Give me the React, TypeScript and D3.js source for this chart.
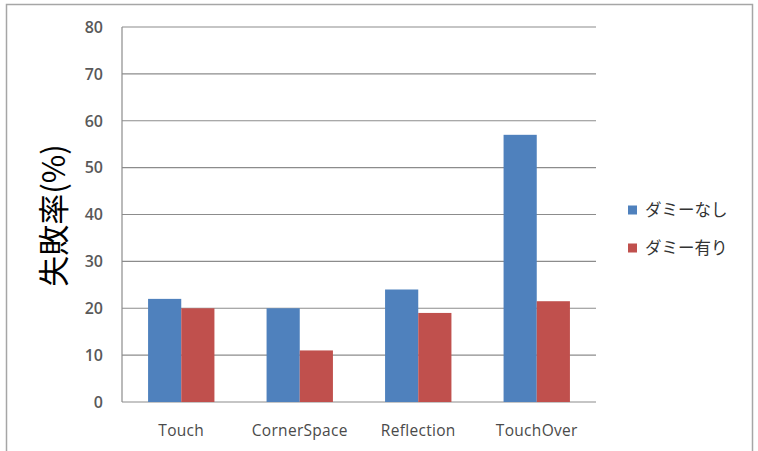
import React from "react";
import * as d3 from "d3";

const categories = ["Touch", "CornerSpace", "Reflection", "TouchOver"];
const seriesNames = ["ダミーなし", "ダミー有り"];
const seriesNone = [22, 20, 24, 57];
const seriesWith = [20, 11, 19, 21.5];
const yTicks = [0, 10, 20, 30, 40, 50, 60, 70, 80];
const colors = ["#4F81BD", "#C0504D"];

export default function App() {
  const W = 758, H = 451;
  const left = 122, right = 596, top = 27, bottom = 402;
  const x = d3.scaleBand().domain(categories).range([left, right]).paddingInner(0.44).paddingOuter(0.22);
  const y = d3.scaleLinear().domain([0, 80]).range([bottom, top]);
  const series = [seriesNone, seriesWith];
  const bw = x.bandwidth() / 2;
  const tickFont = "'Open Sans', sans-serif";
  const jpFont = "'Noto Sans CJK JP', sans-serif";
  return (
    <svg width={W} height={H} style={{ position: "absolute", left: 0, top: 0 }}>
      <rect x={0} y={0} width={W} height={H} fill="#fff" />
      <rect x={6.5} y={4.5} width={746} height={460} fill="#fff" stroke="#a6a6a6" strokeWidth={1.5} />
      {yTicks.map((t) => (
        <g key={t}>
          <line x1={left} x2={right} y1={y(t)} y2={y(t)} stroke="#8c8c8c" strokeWidth={1.2} />
          <text x={103} y={y(t)} dy="0.36em" textAnchor="end" fontFamily={tickFont} fontWeight={600} fontSize={16} fill="#595959">{t}</text>
        </g>
      ))}
      <line x1={left} x2={left} y1={top} y2={bottom} stroke="#8c8c8c" strokeWidth={1.2} />
      {categories.map((c, i) => (
        <g key={c}>
          {series.map((s, k) => (
            <rect key={k} x={(x(c) as number) + k * bw} y={y(s[i])} width={bw} height={bottom - y(s[i])} fill={colors[k]} />
          ))}
          <text x={(x(c) as number) + x.bandwidth() / 2} y={431} dy="0.35em" textAnchor="middle" fontFamily={tickFont} fontSize={15.5} letterSpacing={0.3} fill="#4a4a4a">{c}</text>
        </g>
      ))}
      <text transform="translate(54,215.5) rotate(-90)" textAnchor="middle" dy="0.35em" fontFamily={jpFont} fontSize={31} fill="#000">失敗率(%)</text>
      {seriesNames.map((n, k) => (
        <g key={n}>
          <rect x={628} y={205.5 + k * 38} width={9} height={9} fill={colors[k]} />
          <text x={645} y={210 + k * 38} dy="0.35em" fontFamily={jpFont} fontSize={16.5} fill="#333">{n}</text>
        </g>
      ))}
    </svg>
  );
}
